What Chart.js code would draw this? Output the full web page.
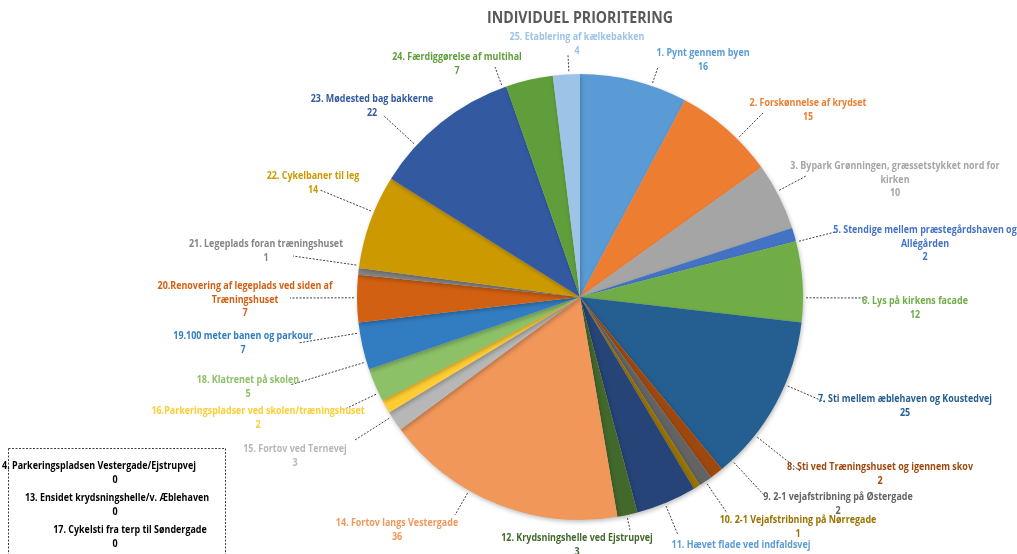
<!DOCTYPE html>
<html>
<head>
<meta charset="utf-8">
<script src="https://cdn.jsdelivr.net/npm/chart.js@4/dist/chart.umd.min.js"></script>
<style>
  html, body { margin: 0; padding: 0; background: #fff; }
  #wrap { width: 1017px; height: 554px; position: relative; }
</style>
</head>
<body>
<div id="wrap"><canvas id="pie"></canvas></div>
<script>
// data
var categories = [
    '1. Pynt gennem byen',
    '2. Forskønnelse af krydset',
    ['3. Bypark Grønningen, græssetstykket nord for', 'kirken'],
    '4. Parkeringspladsen Vestergade/Ejstrupvej',
    ['5. Stendige mellem præstegårdshaven og', 'Allégården'],
    '6. Lys på kirkens facade',
    '7. Sti mellem æblehaven og Koustedvej',
    '8. Sti ved Træningshuset og igennem skov',
    '9. 2-1 vejafstribning på Østergade',
    '10. 2-1 Vejafstribning på Nørregade',
    '11. Hævet flade ved indfaldsvej',
    '12. Krydsningshelle ved Ejstrupvej',
    '13. Ensidet krydsningshelle/v. Æblehaven',
    '14. Fortov langs Vestergade',
    '15. Fortov ved Ternevej',
    '16.Parkeringspladser ved skolen/træningshuset',
    '17. Cykelsti fra terp til Søndergade',
    '18. Klatrenet på skolen',
    '19.100 meter banen og parkour',
    ['20.Renovering af legeplads ved siden af', 'Træningshuset'],
    '21. Legeplads foran træningshuset',
    '22. Cykelbaner til leg',
    '23. Mødested bag bakkerne',
    '24. Færdiggørelse af multihal',
    '25. Etablering af kælkebakken'
];
var votes = [16, 15, 10, 0, 2, 12, 25, 2, 2, 1, 9, 3, 0, 36, 3, 2, 0, 5, 7, 7, 1, 14, 22, 7, 4];

var sliceColors = [
    '#5B9BD5', '#ED7D31', '#A5A5A5', '#FFC000', '#4472C4',
    '#70AD47', '#255E91', '#9E480E', '#636363', '#997300',
    '#264478', '#43682B', '#7CAFDD', '#F1975A', '#B7B7B7',
    '#FFCD33', '#698ED0', '#8CC168', '#327DC2', '#D26012',
    '#848484', '#CC9A00', '#335AA1', '#5F9E3A', '#9DC3E6'
];
var labelColors = sliceColors.slice();
labelColors[10] = '#5B9BD5';

// where each label sits: text centre (x,y) and end of the leader line (lx,ly)
var labelPos = [
    {x: 703, y: 53, lx: 658, ly: 67},
    {x: 808, y: 103, lx: 763, ly: 113},
    {x: 895, y: 166, lx: 806, ly: 176},
    null,
    {x: 925, y: 230, lx: 835, ly: 232},
    {x: 915, y: 301, lx: 868, ly: 298},
    {x: 905, y: 399, lx: 825, ly: 402},
    {x: 880, y: 467, lx: 800, ly: 471},
    {x: 838, y: 497, lx: 765, ly: 496},
    {x: 798, y: 520, lx: 727, ly: 513},
    {x: 741, y: 545, lx: 678, ly: 535},
    {x: 577, y: 538, lx: 630, ly: 530},
    null,
    {x: 397, y: 523, lx: 455, ly: 515},
    {x: 295, y: 449, lx: 355, ly: 440},
    {x: 258, y: 411, lx: 343, ly: 410},
    null,
    {x: 248, y: 380, lx: 290, ly: 385},
    {x: 243, y: 336, lx: 298, ly: 343},
    {x: 245, y: 286, lx: 290, ly: 298},
    {x: 266, y: 244, lx: 293, ly: 256},
    {x: 313, y: 176, lx: 320, ly: 190},
    {x: 372, y: 99, lx: 383, ly: 115},
    {x: 457, y: 57, lx: 495, ly: 67},
    {x: 577, y: 37, lx: 568, ly: 55}
];

var labelFont = 'bold 11px "Open Sans", "Noto Sans", sans-serif';
var lineH = 13.5;

// draws text squeezed horizontally so it looks like the narrow original font
function squeezeText(ctx, text, x, y, sx) {
    ctx.save();
    ctx.translate(x, y);
    ctx.scale(sx, 1);
    ctx.fillText(text, 0, 0);
    ctx.restore();
}

var shadowPlugin = {
    id: 'shadow',
    beforeDatasetDraw: function (chart) {
        var ctx = chart.ctx;
        ctx.save();
        ctx.shadowColor = 'rgba(0,0,0,0.25)';
        ctx.shadowBlur = 4;
        ctx.shadowOffsetX = 1;
        ctx.shadowOffsetY = 2;
    },
    afterDatasetDraw: function (chart) {
        chart.ctx.restore();
    }
};

var labelPlugin = {
    id: 'sliceLabels',
    afterDraw: function (chart) {
        var ctx = chart.ctx;
        var arc = chart.getDatasetMeta(0).data[0];
        var cx = arc.x, cy = arc.y, r = arc.outerRadius + 3;

        ctx.save();
        ctx.textAlign = 'center';
        ctx.textBaseline = 'middle';
        ctx.font = labelFont;
        // squeeze factor: reference label 7 is about 174px wide
        var sx = 174 / ctx.measureText(categories[6]).width;

        categories.forEach(function (cat, i) {
            var p = labelPos[i];
            if (!p) return;
            // leader line from pie edge toward the label
            var a = Math.atan2(p.ly - cy, p.lx - cx);
            ctx.setLineDash([2, 1.5]);
            ctx.strokeStyle = '#404040';
            ctx.lineWidth = 1;
            ctx.beginPath();
            ctx.moveTo(cx + Math.cos(a) * r, cy + Math.sin(a) * r);
            ctx.lineTo(p.lx, p.ly);
            ctx.stroke();
            ctx.setLineDash([]);

            var lines = [].concat(cat, String(votes[i]));
            ctx.fillStyle = labelColors[i];
            lines.forEach(function (t, k) {
                squeezeText(ctx, t, p.x, p.y + k * lineH, sx);
            });
        });

        // zero-value categories collected in a dashed box
        ctx.setLineDash([2, 1.5]);
        ctx.strokeStyle = '#404040';
        ctx.strokeRect(8.5, 448.5, 217, 120);
        ctx.setLineDash([]);
        ctx.fillStyle = '#000000';
        var row = 0;
        var boxX = [99, 117, 130];
        categories.forEach(function (cat, i) {
            if (votes[i] !== 0) return;
            var y = 466 + row * 32;
            squeezeText(ctx, cat, boxX[row] || 115, y, sx);
            squeezeText(ctx, String(votes[i]), 115, y + 14, sx);
            row++;
        });

        // title
        ctx.fillStyle = '#595959';
        ctx.font = 'bold 16px "Open Sans", "Noto Sans", sans-serif';
        var tw = ctx.measureText('INDIVIDUEL PRIORITERING').width;
        squeezeText(ctx, 'INDIVIDUEL PRIORITERING', 580, 18, 186 / tw);
        ctx.restore();
    }
};

var pieCanvas = document.getElementById('pie');
pieCanvas.width = 1017;
pieCanvas.height = 554;

var pieChart = new Chart(pieCanvas.getContext('2d'), {
    type: 'pie',
    data: {
        labels: categories,
        datasets: [{
            data: votes,
            backgroundColor: sliceColors,
            borderWidth: 0
        }]
    },
    options: {
        responsive: false,
        animation: false,
        layout: {
            padding: {left: 357, right: 214, top: 74, bottom: 34}
        },
        plugins: {
            legend: {display: false},
            tooltip: {enabled: false}
        }
    },
    plugins: [shadowPlugin, labelPlugin]
});
</script>
</body>
</html>
